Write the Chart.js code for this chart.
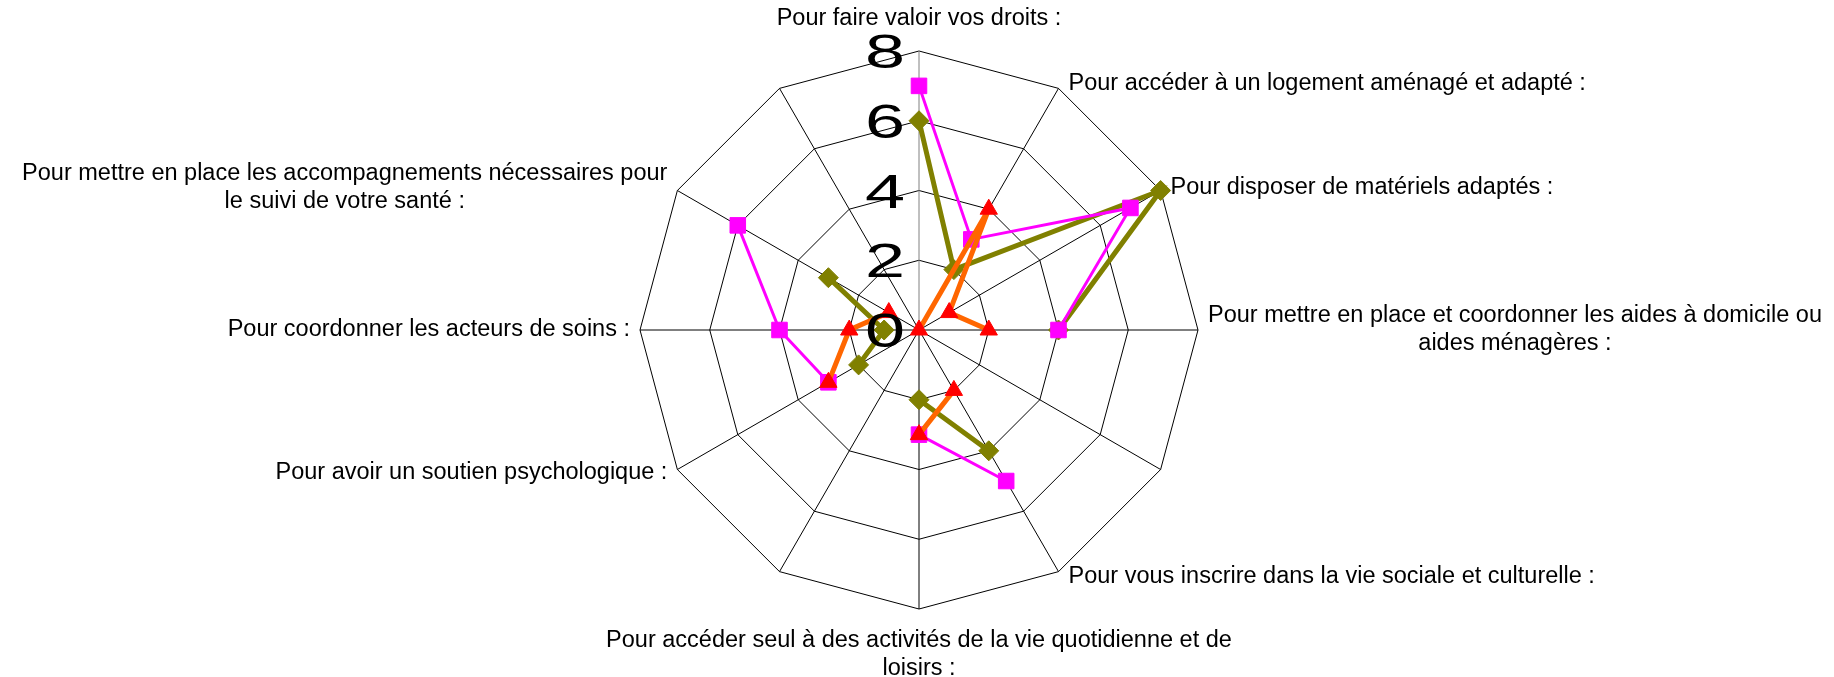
<!DOCTYPE html>
<html>
<head>
<meta charset="utf-8">
<script src="https://cdn.jsdelivr.net/npm/chart.js@4/dist/chart.umd.min.js"></script>
<style>
  html, body { margin: 0; padding: 0; background: #fff; }
  #wrap { width: 1834px; height: 677px; position: relative; }
</style>
</head>
<body>
<div id="wrap"><canvas id="radar"></canvas></div>
<script>
// Categories (clockwise from the top); three axes have no visible label
const categories = [
  'Pour faire valoir vos droits :',
  'Pour accéder à un logement aménagé et adapté :',
  'Pour disposer de matériels adaptés :',
  ['Pour mettre en place et coordonner les aides à domicile ou', 'aides ménagères :'],
  '',
  'Pour vous inscrire dans la vie sociale et culturelle :',
  ['Pour accéder seul à des activités de la vie quotidienne et de', 'loisirs :'],
  '',
  'Pour avoir un soutien psychologique :',
  'Pour coordonner les acteurs de soins :',
  ['Pour mettre en place les accompagnements nécessaires pour', 'le suivi de votre santé :'],
  ''
];

// Series values (null = no point)
const oliveValues   = [6, 2, 8, 4, null, 4, 2, null, 2, 1, 3, null];
const magentaValues = [7, 3, 7, 4, null, 5, 3, null, 3, 4, 6, null];
const orangeValues  = [0, 4, 1, 2, null, 2, 3, null, 3, 2, 1, null];

// Radial axis
const axisMin = 0;
const axisMax = 8;
const axisStep = 2;

const labelFont = '23.5px "Liberation Sans", Arial, sans-serif';
const tickFont = '48px "Liberation Sans", Arial, sans-serif';

// Tick numbers on the left of the vertical axis, drawn wide like the original
const tickLabelsPlugin = {
  id: 'tickLabels',
  afterDatasetsDraw(chart) {
    const scale = chart.scales.r;
    const ctx = chart.ctx;
    ctx.save();
    ctx.font = tickFont;
    ctx.fillStyle = '#000';
    ctx.textAlign = 'right';
    ctx.textBaseline = 'alphabetic';
    ctx.scale(1.5, 1);
    scale.ticks.forEach(t => {
      const y = scale.yCenter - scale.getDistanceFromCenterForValue(t.value);
      ctx.fillText(String(t.value), (scale.xCenter - 14) / 1.5, y + 17);
    });
    ctx.restore();
  }
};

// Category labels placed around the outer polygon
const pointLabelsPlugin = {
  id: 'outerLabels',
  afterDraw(chart) {
    const scale = chart.scales.r;
    const ctx = chart.ctx;
    const lineH = 28;
    ctx.save();
    ctx.font = labelFont;
    ctx.fillStyle = '#000';
    ctx.textBaseline = 'middle';
    ctx.textAlign = 'center';
    chart.data.labels.forEach((lbl, i) => {
      const lines = Array.isArray(lbl) ? lbl : [lbl];
      if (!lines[0]) return;
      const pos = scale.getPointPosition(i, scale.drawingArea);
      const a = scale.getIndexAngle(i);
      const s = Math.sin(a), c = Math.cos(a);
      const w = Math.max(...lines.map(l => ctx.measureText(l).width));
      const h = lines.length * lineH;
      let cx, top;
      if (Math.abs(s) < 0.1) {
        cx = pos.x;
        top = c > 0 ? pos.y - 18 - h : pos.y + 18;
      } else {
        cx = s > 0 ? pos.x + 10 + w / 2 : pos.x - 10 - w / 2;
        top = pos.y - 6 * c - h / 2;
      }
      lines.forEach((l, k) => ctx.fillText(l, cx, top + lineH / 2 + k * lineH));
    });
    ctx.restore();
  }
};

const ctx = document.getElementById('radar').getContext('2d');

new Chart(ctx, {
  type: 'radar',
  data: {
    labels: categories,
    datasets: [
      {
        label: 'Série 1',
        data: oliveValues,
        borderColor: '#808000',
        backgroundColor: '#808000',
        borderWidth: 5,
        fill: false,
        pointStyle: 'rectRot',
        pointRadius: 10,
        pointBackgroundColor: '#808000',
        pointBorderColor: '#808000',
        pointBorderWidth: 1,
        order: 3
      },
      {
        label: 'Série 2',
        data: magentaValues,
        borderColor: '#FF00FF',
        backgroundColor: '#FF00FF',
        borderWidth: 3,
        fill: false,
        pointStyle: 'rect',
        pointRadius: 11,
        pointBackgroundColor: '#FF00FF',
        pointBorderColor: '#FF00FF',
        pointBorderWidth: 1,
        order: 2
      },
      {
        label: 'Série 3',
        data: orangeValues,
        borderColor: '#FF6600',
        backgroundColor: '#FF0000',
        borderWidth: 5,
        fill: false,
        pointStyle: 'triangle',
        pointRadius: 10,
        pointBackgroundColor: '#FF0000',
        pointBorderColor: '#FF0000',
        pointBorderWidth: 1,
        order: 1
      }
    ]
  },
  options: {
    responsive: true,
    maintainAspectRatio: false,
    animation: false,
    spanGaps: false,
    layout: {
      padding: { left: 640, right: 636, top: 51, bottom: 68 }
    },
    elements: {
      line: { tension: 0 }
    },
    plugins: {
      legend: { display: false },
      tooltip: { enabled: false }
    },
    scales: {
      r: {
        min: axisMin,
        max: axisMax,
        ticks: { stepSize: axisStep, display: false },
        grid: { color: '#000', lineWidth: 1 },
        angleLines: {
          color: function(c) { return c.index === 0 ? '#808080' : '#000'; },
          lineWidth: 1
        },
        pointLabels: { display: false }
      }
    }
  },
  plugins: [tickLabelsPlugin, pointLabelsPlugin]
});
</script>
</body>
</html>
